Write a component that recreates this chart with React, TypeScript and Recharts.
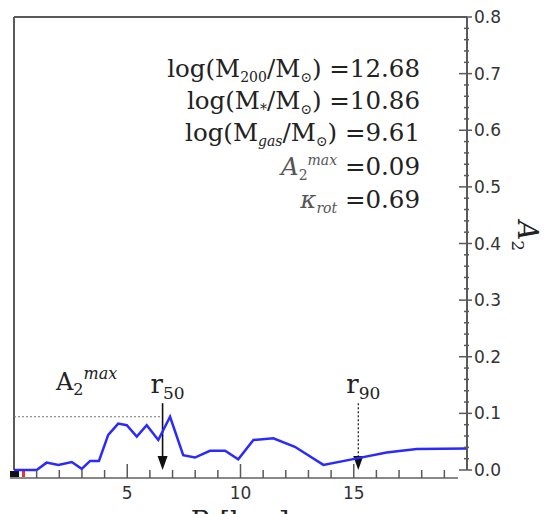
import React from "react"
import { LineChart, Line, XAxis, YAxis, ReferenceLine } from "recharts"

// radius [kpc] and bar strength A2
const radius = [0, 1.0, 1.44, 1.96, 2.55, 2.99, 3.36, 3.75, 4.16, 4.6, 4.98, 5.42, 5.86, 6.37, 6.89, 7.47, 7.99, 8.65, 9.32, 9.9, 10.57, 11.45, 12.4, 13.66, 15.2, 16.45, 17.78, 20.0]
const a2 = [0, 0, 0.013, 0.009, 0.014, 0.002, 0.016, 0.016, 0.062, 0.082, 0.079, 0.059, 0.079, 0.053, 0.094, 0.026, 0.022, 0.034, 0.034, 0.019, 0.053, 0.056, 0.041, 0.009, 0.021, 0.031, 0.037, 0.038]

const xTicks = [1, 2, 3, 4, 5, 6, 7, 8, 9, 10, 11, 12, 13, 14, 15, 16, 17, 18, 19]
const yTicks = [0, 0.02, 0.04, 0.06, 0.08, 0.1, 0.12, 0.14, 0.16, 0.18, 0.2, 0.22, 0.24, 0.26, 0.28, 0.3, 0.32, 0.34, 0.36, 0.38, 0.4, 0.42, 0.44, 0.46, 0.48, 0.5, 0.52, 0.54, 0.56, 0.58, 0.6, 0.62, 0.64, 0.66, 0.68, 0.7, 0.72, 0.74, 0.76, 0.78, 0.8]

const r50 = 6.56
const r90 = 15.2
const a2max = 0.094
const arrowTop = 0.118

const data = radius.map((r, i) => ({ r, a2: a2[i] }))

const frame = "#5a5a5a"
const serif = "DejaVu Serif"
const sans = "DejaVu Sans"

const isMajorY = (v: number) => Math.abs(v * 10 - Math.round(v * 10)) < 1e-6

function BottomTick({ x, y, payload }: any) {
  const major = payload.value % 5 === 0
  return (
    <g>
      <line x1={x} x2={x} y1={y + 8} y2={major ? y - 6 : y} stroke={frame} strokeWidth={1.5} />
      {major && (
        <text x={x} y={y + 29} textAnchor="middle" fontFamily={sans} fontSize={17} fill="#333">
          {payload.value}
        </text>
      )}
    </g>
  )
}

function TopTick({ x, y, payload }: any) {
  const major = payload.value % 5 === 0
  return <line x1={x} x2={x} y1={y} y2={y + (major ? 10 : 5)} stroke={frame} strokeWidth={1.5} />
}

function RightTick({ x, y, payload }: any) {
  const major = isMajorY(payload.value)
  return (
    <g>
      <line x1={major ? x - 8 : x - 3} x2={major ? x + 5 : x + 2} y1={y} y2={y} stroke={frame} strokeWidth={1.5} />
      {major && (
        <text x={x + 7} y={y + 6} fontFamily={sans} fontSize={17} fill="#333">
          {payload.value.toFixed(1)}
        </text>
      )}
    </g>
  )
}

function radiusArrow(label: string, dotted: boolean) {
  return (p: any) => {
    const { x1, y1, y2 } = p
    return (
      <g>
        <line x1={x1} x2={x1} y1={y1} y2={y2 - 12} stroke="#111" strokeWidth={dotted ? 1.2 : 1.6} strokeDasharray={dotted ? "2 2" : undefined} />
        <polygon points={`${x1 - 5},${y2 - 14} ${x1 + 5},${y2 - 14} ${x1},${y2}`} fill="#111" />
        <text x={x1 - 12} y={y1 - 10} fontFamily={serif} fontSize={26} fill="#222">
          r<tspan fontSize={17} dy={6}>{label}</tspan>
        </text>
      </g>
    )
  }
}

function StatLine({ y, children }: { y: number; children: React.ReactNode }) {
  return (
    <text x={420} y={y} textAnchor="end" fontFamily={serif} fontSize={24.5} fill="#222">
      {children}
    </text>
  )
}

export default function App() {
  return (
    <div style={{ position: "absolute", left: 0, top: 0, width: 545, height: 514, background: "#fff", overflow: "hidden" }}>
      <LineChart width={545} height={514} data={data} margin={{ top: 17, right: 18, left: 14, bottom: 14 }}>
        <XAxis
          type="number"
          dataKey="r"
          domain={[0, 20]}
          ticks={xTicks}
          allowDataOverflow
          height={30}
          axisLine={false}
          tickLine={false}
          tickSize={0}
          tickMargin={0}
          tick={<BottomTick />}
          interval={0}
        />
        <XAxis
          xAxisId="top"
          orientation="top"
          type="number"
          dataKey="r"
          domain={[0, 20]}
          ticks={xTicks}
          height={0}
          axisLine={false}
          tickLine={false}
          tickSize={0}
          tickMargin={0}
          tick={<TopTick />}
          interval={0}
        />
        <YAxis
          orientation="right"
          domain={[0, 0.8]}
          ticks={yTicks}
          width={60}
          axisLine={{ stroke: frame, strokeWidth: 2 }}
          tickLine={false}
          tickSize={0}
          tickMargin={0}
          tick={<RightTick />}
          interval={0}
        />
        <ReferenceLine y={0.8} stroke={frame} strokeWidth={2} />
        <ReferenceLine x={0} stroke={frame} strokeWidth={2} />
        <ReferenceLine
          segment={[{ x: -0.18, y: -0.0141 }, { x: 19.6, y: -0.0141 }]}
          ifOverflow="visible"
          stroke="#888"
          strokeWidth={2}
        />
        <ReferenceLine
          segment={[{ x: 0, y: a2max }, { x: r50, y: a2max }]}
          stroke="#777"
          strokeWidth={1.2}
          strokeDasharray="2 2"
        />
        <ReferenceLine segment={[{ x: r50, y: arrowTop }, { x: r50, y: 0 }]} shape={radiusArrow("50", false)} ifOverflow="visible" />
        <ReferenceLine segment={[{ x: r90, y: arrowTop }, { x: r90, y: 0 }]} shape={radiusArrow("90", true)} ifOverflow="visible" />
        <Line type="linear" dataKey="a2" stroke="#2a2aff" strokeWidth={2.5} dot={false} isAnimationActive={false} />

        <rect x={10} y={471} width={9} height={7} fill="#111" />
        <rect x={22} y={471} width={3} height={7} fill="#e33" />

        <text x={56} y={390} fontFamily={serif} fontSize={24} fill="#222">
          A<tspan fontSize={16} dy={5}>2</tspan>
          <tspan fontSize={16} fontStyle="italic" dy={-16}>max</tspan>
        </text>

        <StatLine y={77}>
          log(M<tspan fontSize={14} dy={5}>200</tspan>
          <tspan dy={-5}>/M</tspan>
          <tspan fontSize={14} dy={5}>⊙</tspan>
          <tspan dy={-5}>) =12.68</tspan>
        </StatLine>
        <StatLine y={109}>
          log(M<tspan fontSize={14} dy={5}>*</tspan>
          <tspan dy={-5}>/M</tspan>
          <tspan fontSize={14} dy={5}>⊙</tspan>
          <tspan dy={-5}>) =10.86</tspan>
        </StatLine>
        <StatLine y={141}>
          log(M<tspan fontSize={14} fontStyle="italic" dy={5}>gas</tspan>
          <tspan dy={-5}>/M</tspan>
          <tspan fontSize={14} dy={5}>⊙</tspan>
          <tspan dy={-5}>) =9.61</tspan>
        </StatLine>
        <StatLine y={175}>
          <tspan fontStyle="italic" fill="#555">A</tspan>
          <tspan fontSize={14} fill="#555" dy={5}>2</tspan>
          <tspan fontSize={14} fontStyle="italic" fill="#555" dy={-15}>max</tspan>
          <tspan dy={10}> =0.09</tspan>
        </StatLine>
        <StatLine y={208}>
          <tspan fontStyle="italic" fill="#555">κ</tspan>
          <tspan fontSize={14} fontStyle="italic" fill="#555" dy={5}>rot</tspan>
          <tspan dy={-5}> =0.69</tspan>
        </StatLine>

        <text x={518} y={236} transform="rotate(90 518 236)" textAnchor="middle" fontFamily={serif} fontSize={27} fontStyle="italic" fill="#222">
          A<tspan fontSize={17} fontStyle="normal" dy={6}>2</tspan>
        </text>
        <text x={240} y={531} textAnchor="middle" fontFamily={serif} fontSize={27} fill="#222">
          R [kpc]
        </text>
      </LineChart>
    </div>
  )
}
